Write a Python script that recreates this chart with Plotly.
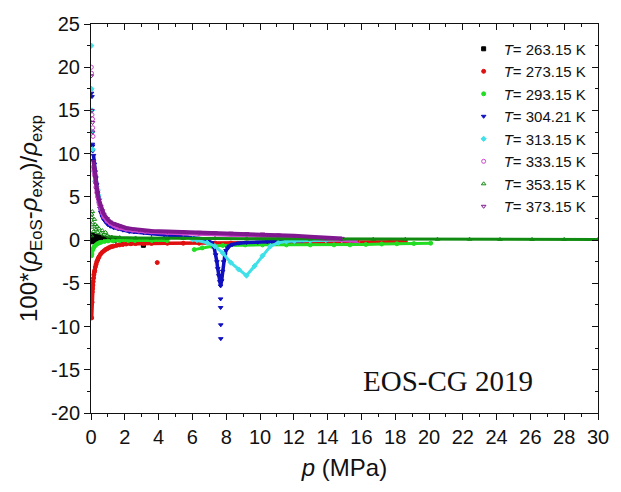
import plotly.graph_objects as go

# ---------------- data ----------------
temps = ["263.15", "273.15", "293.15", "304.21", "313.15", "333.15", "353.15", "373.15"]

# T = 263.15 K
p263 = [0.05, 0.08, 0.10, 0.12, 0.15, 0.18, 0.20, 0.25, 0.30, 0.35, 0.40, 0.50, 0.60, 0.70, 0.80, 0.90, 1.00, 1.20, 1.40, 1.60, 1.80, 2.20, 2.60]
d263 = [0.6, 0.3, -0.2, 0.5, 0.1, 0.4, -0.1, 0.3, 0.2, 0.0, 0.4, 0.1, 0.3, 0.0, 0.2, 0.1, 0.05, 0.1, 0.0, 0.05, 0.0, -0.05, -0.1]
p263_s = [3.1]
d263_s = [-0.6]

# T = 273.15 K
p273 = [0.04, 0.06, 0.07, 0.09, 0.11, 0.13, 0.15, 0.17, 0.20, 0.22, 0.26, 0.30, 0.34, 0.39, 0.43, 0.48, 0.57, 0.67, 0.76,
        0.86, 0.95, 1.04, 1.14, 1.23, 1.33, 1.51, 1.70, 1.89, 2.08, 2.36, 2.64, 3.11, 3.58, 4.52, 5.46, 6.40, 7.34, 8.28,
        9.21, 10.15, 11.09, 12.03, 12.97, 13.90, 14.84, 15.79, 16.73, 17.66, 18.60]
d273 = [-9.0, -7.2, -6.0, -5.6, -5.2, -4.8, -4.4, -4.0, -3.7, -3.5, -3.1, -2.8, -2.5, -2.3, -2.1, -1.9, -1.6, -1.4, -1.25,
        -1.1, -1.0, -0.9, -0.8, -0.75, -0.7, -0.6, -0.55, -0.5, -0.45, -0.42, -0.4, -0.4, -0.38, -0.37, -0.36, -0.36, -0.35, -0.35,
        -0.34, -0.33, -0.32, -0.3, -0.3, -0.28, -0.27, -0.25, -0.25, -0.22, -0.2]
p273_s = [3.92]
d273_s = [-2.6]

# T = 293.15 K (two runs, break between)
p293 = [0.03, 0.05, 0.06, 0.10, 0.15, 0.20, 0.30, 0.40, 0.50, 0.60, 0.80, 1.00, 1.30, 1.70, 2.20, 2.60, 3.60, 4.50, None,
        6.11, 6.58, 7.15, 7.80, 9.12, 10.15, 11.56, 12.97, 14.38, 15.32, 16.26, 17.20, 18.10, 19.10, 20.10]
d293 = [-1.8, -1.6, -1.3, -1.1, -0.9, -0.75, -0.55, -0.4, -0.3, -0.25, -0.15, -0.1, -0.08, -0.05, -0.05, -0.05, -0.05, -0.05, None,
        -1.1, -0.9, -0.72, -0.62, -0.55, -0.55, -0.55, -0.55, -0.55, -0.55, -0.5, -0.45, -0.42, -0.4, -0.35]

# T = 304.21 K
p304 = [0.15, 0.20, 0.25, 0.29, 0.34, 0.39, 0.43, 0.48, 0.53, 0.58, 0.67, 0.76, 0.86, 1.00, 1.14, 1.33, 1.61, 1.89, 2.26,
        2.55, 3.11, 3.58, 4.33, 4.99, 5.65, 6.40, 6.87, 7.15, 7.29, 7.38, 7.45, 7.50, 7.56, 7.62, 7.67, 7.73, 7.79, 7.85,
        7.92, 7.99, 8.09, 8.18, 8.37, 8.74, 9.21, 9.87, 10.43, 10.90, 11.56, 12.50]
d304 = [9.8, 8.8, 7.9, 7.2, 6.4, 5.6, 4.9, 4.3, 3.7, 3.2, 2.7, 2.35, 2.1, 1.8, 1.6, 1.45, 1.3, 1.15, 1.0,
        0.95, 0.85, 0.75, 0.6, 0.5, 0.35, 0.2, 0.0, -0.3, -0.9, -1.7, -2.5, -3.3, -4.1, -4.8, -5.3, -4.7, -3.6, -2.5,
        -1.7, -1.2, -0.9, -0.7, -0.5, -0.35, -0.28, -0.25, -0.2, -0.15, -0.1, -0.05]
p304_s = [0.03, 0.06, 0.08, 0.10, 0.10, 0.12, 7.67, 7.67, 7.68, 7.68]
d304_s = [17.0, 16.6, 11.1, 10.3, 10.9, 9.2, -6.8, -7.8, -9.8, -11.4]

# T = 313.15 K
p313 = [6.00, 6.27, 6.87, 7.33, 7.80, 8.27, 8.74, 9.20, 9.68, 10.15, 10.62, 11.09, 11.56, 12.03, 12.97, 13.90, 14.84]
d313 = [0.1, 0.0, -0.3, -0.7, -1.5, -2.6, -3.4, -4.1, -3.0, -1.8, -0.7, -0.3, -0.15, -0.1, -0.05, 0.0, 0.0]
p313_s = [0.02, 0.03, 0.06, 0.08, 0.10, 0.13, 0.25, 0.34, 0.39, 0.43, 0.48]
d313_s = [22.5, 17.5, 15.0, 12.5, 10.5, 8.0, 6.8, 6.2, 5.8, 5.2, 4.8]

# T = 333.15 K
p333 = [0.15, 0.20, 0.25, 0.29, 0.34, 0.39, 0.48, 0.58, 0.67, 0.76, 0.95, 1.14, 1.33, 1.51, 1.70, 2.08, 2.45, 2.83, 3.20,
        3.58, 4.52, 5.46, 6.40, 7.34, 8.28, 9.21, 10.15, 11.09, 12.03, 12.97, 13.91, 14.85, 15.79]
d333 = [8.5, 7.6, 6.8, 6.1, 5.5, 5.0, 4.2, 3.6, 3.1, 2.7, 2.2, 1.9, 1.7, 1.5, 1.4, 1.25, 1.15, 1.05, 1.0,
        0.95, 0.85, 0.8, 0.75, 0.7, 0.65, 0.6, 0.5, 0.45, 0.35, 0.25, 0.15, 0.05, -0.1]
p333_s = [0.02, 0.03, 0.06, 0.09, 0.10, 0.12]
d333_s = [20.0, 19.3, 14.5, 14.0, 13.0, 12.0]

# T = 353.15 K
p353 = [1.05, 1.23, 1.70, 2.64, 3.58, 4.52, 5.46, 7.34, 9.21, 11.09, 12.97, 14.85, 16.70, 18.60, 20.50, 22.40, 24.20, 26.10, 28.00, 30.00]
d353 = [0.4, 0.35, 0.3, 0.25, 0.22, 0.2, 0.2, 0.18, 0.15, 0.15, 0.12, 0.12, 0.1, 0.1, 0.1, 0.1, 0.08, 0.08, 0.08, 0.08]
p353_s = [0.02, 0.04, 0.05, 0.06, 0.08, 0.10, 0.15, 0.20, 0.25, 0.30, 0.35, 0.40, 0.48, 0.58, 0.67, 0.76, 0.86, 0.95]
d353_s = [0.5, 3.0, 2.6, 1.5, 3.3, 2.0, 1.0, 2.4, 1.8, 1.2, 1.6, 0.9, 1.3, 0.8, 1.1, 0.6, 0.9, 0.5]

# T = 373.15 K
p373 = [0.15, 0.20, 0.25, 0.29, 0.34, 0.39, 0.48, 0.58, 0.67, 0.76, 0.95, 1.14, 1.33, 1.51, 1.70, 2.08, 2.45, 2.83, 3.20,
        3.58, 4.52, 5.46, 6.40, 7.34, 8.28, 9.21, 10.15, 11.09, 12.03, 12.97, 13.91, 14.85]
d373 = [9.1, 8.2, 7.3, 6.5, 5.9, 5.4, 4.6, 3.9, 3.4, 3.0, 2.5, 2.1, 1.9, 1.75, 1.6, 1.4, 1.3, 1.2, 1.1,
        1.05, 1.0, 0.95, 0.9, 0.85, 0.8, 0.75, 0.7, 0.6, 0.5, 0.4, 0.3, 0.2]
p373_s = [0.02, 0.06, 0.09, 0.10]
d373_s = [19.0, 15.0, 13.6, 12.5]

x_ticks = list(range(0, 31, 2))
y_ticks = list(range(-20, 26, 5))

#            main x, main y, scatter x, scatter y, colour, symbol, band width
series = [
    (p263, d263, p263_s, d263_s, "#000000", "square", 2.5),
    (p273, d273, p273_s, d273_s, "#e01010", "circle", 3.5),
    (p293, d293, [], [], "#22dd22", "circle", 3.0),
    (p304, d304, p304_s, d304_s, "#1010c0", "triangle-down", 3.5),
    (p313, d313, p313_s, d313_s, "#40e0e8", "diamond", 3.0),
    (p333, d333, p333_s, d333_s, "#cc44cc", "circle-open", 4.0),
    (p353, d353, p353_s, d353_s, "#108a10", "triangle-up-open", 3.0),
    (p373, d373, p373_s, d373_s, "#801890", "triangle-down-open", 4.0),
]

fig = go.Figure()
for t, (px_, dx_, ps_, ds_, col, sym, lw) in zip(temps, series):
    grp = "T" + t
    fig.add_trace(go.Scatter(x=px_, y=dx_, mode="lines+markers", legendgroup=grp, showlegend=False,
                             line=dict(color=col, width=lw),
                             marker=dict(color=col, symbol=sym, size=4, line=dict(color=col, width=1))))
    if ps_:
        fig.add_trace(go.Scatter(x=ps_, y=ds_, mode="markers", legendgroup=grp, showlegend=False,
                                 marker=dict(color=col, symbol=sym, size=4, line=dict(color=col, width=1))))
    fig.add_trace(go.Scatter(x=[None], y=[None], mode="markers", legendgroup=grp, showlegend=True,
                             name="<i>T</i>= " + t + " K",
                             marker=dict(color=col, symbol=sym, size=4, line=dict(color=col, width=1))))

# empty trace so the mirrored top/right axes get drawn
fig.add_trace(go.Scatter(x=[None], y=[None], xaxis="x2", yaxis="y2", showlegend=False, hoverinfo="skip"))

font_family = "Liberation Sans, Arial, sans-serif"
ax_common = dict(showgrid=False, zeroline=False, showline=True, linecolor="#111", linewidth=1,
                 tickcolor="#111", tickwidth=1)

fig.update_layout(
    width=621, height=492,
    margin=dict(l=91, r=18, t=24, b=79),
    paper_bgcolor="white", plot_bgcolor="white",
    font=dict(family=font_family, color="#111111", size=20),
    showlegend=True,
    legend=dict(x=0.735, y=0.978, xanchor="left", yanchor="top", bgcolor="rgba(0,0,0,0)",
                font=dict(size=15, family=font_family), itemwidth=30, tracegroupgap=0),
    xaxis=dict(range=[0, 30], tickmode="array", tickvals=x_ticks, ticktext=[str(v) for v in x_ticks],
               ticks="outside", ticklen=6,
               minor=dict(dtick=1, ticks="outside", ticklen=3, tickcolor="#111"),
               tickfont=dict(size=20),
               title=dict(text="<i>p</i> (MPa)", font=dict(size=24), standoff=12), **ax_common),
    yaxis=dict(range=[-20, 25], tickmode="array", tickvals=y_ticks, ticktext=[str(v) for v in y_ticks],
               ticks="outside", ticklen=6,
               minor=dict(dtick=2.5, ticks="outside", ticklen=3, tickcolor="#111"),
               tickfont=dict(size=20),
               title=dict(text="100*(<i>ρ</i><sub>EoS</sub>-<i>ρ</i><sub>exp</sub>)/<i>ρ</i><sub>exp</sub>",
                          font=dict(size=24), standoff=6), **ax_common),
    xaxis2=dict(range=[0, 30], overlaying="x", side="top", anchor="y2", tickmode="array", tickvals=x_ticks,
                ticks="inside", ticklen=6, showticklabels=False,
                minor=dict(dtick=1, ticks="inside", ticklen=3, tickcolor="#111"), **ax_common),
    yaxis2=dict(range=[-20, 25], overlaying="y", side="right", anchor="x2", tickmode="array", tickvals=y_ticks,
                ticks="inside", ticklen=6, showticklabels=False,
                minor=dict(dtick=2.5, ticks="inside", ticklen=3, tickcolor="#111"), **ax_common),
    annotations=[dict(text="EOS-CG 2019", x=0.705, y=0.082, xref="paper", yref="paper",
                      xanchor="center", yanchor="middle", showarrow=False,
                      font=dict(family="Liberation Serif, Times New Roman, serif", size=29, color="#111"))],
)

fig.write_html("out.html")
